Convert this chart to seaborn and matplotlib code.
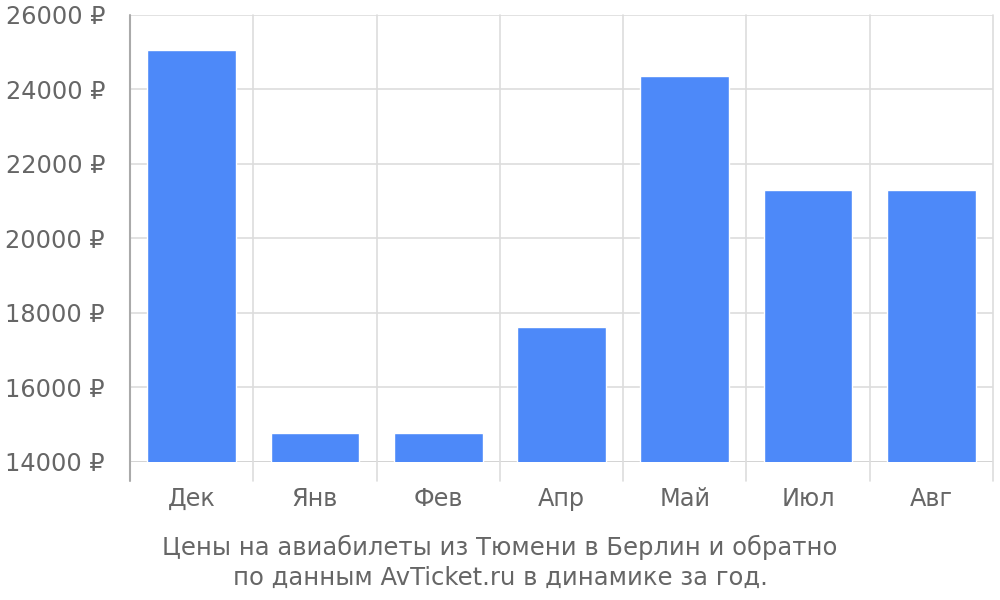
import matplotlib
matplotlib.use("Agg")
import matplotlib.pyplot as plt
import seaborn as sns
import pandas as pd

# data
months = ["Дек", "Янв", "Фев", "Апр", "Май", "Июл", "Авг"]
prices = [25050, 14780, 14780, 17630, 24350, 21300, 21300]
y_ticks = [14000, 16000, 18000, 20000, 22000, 24000, 26000]
caption = "Цены на авиабилеты из Тюмени в Берлин и обратно\nпо данным AvTicket.ru в динамике за год."

sns.set_style("white")
plt.rcParams["font.family"] = ["DejaVu Sans"]

df = pd.DataFrame({"month": months, "price": prices})

fig = plt.figure(figsize=(10, 6), dpi=100)
ax = fig.add_axes([0.13, 0.23, 0.863, 0.745])

sns.barplot(data=df, x="month", y="price", color="#4d89f9", saturation=1,
            width=0.72, ax=ax, zorder=3)

ax.set_ylim(y_ticks[0], y_ticks[-1])
ax.set_xlim(-0.5, len(months) - 0.5)
ax.set_yticks(y_ticks)
ax.set_yticklabels([f"{v} ₽" for v in y_ticks])

# horizontal grid
for v in y_ticks:
    ax.axhline(v, color="#cccccc" if v == y_ticks[0] else "#dddddd", lw=1.2, zorder=1)

# vertical grid between categories, running a bit below the axis
for i in range(len(months) + 1):
    ax.axvline(i - 0.5, ymin=-0.043, ymax=1, color="#aaaaaa" if i == 0 else "#dddddd",
               lw=1.5 if i == 0 else 1.2, clip_on=False, zorder=2)

for s in ax.spines.values():
    s.set_visible(False)

ax.tick_params(axis="y", length=12, color="#dddddd", width=1.2, pad=6,
               labelsize=17.3, labelcolor="#666666")
ax.tick_params(axis="x", length=0, pad=18, labelsize=17.3, labelcolor="#666666")
ax.set_xlabel("")
ax.set_ylabel("")

fig.text(0.5, 0.063, caption, ha="center", va="center", fontsize=17.5,
         color="#666666", linespacing=1.3)

fig.savefig("out.png", dpi=100)
